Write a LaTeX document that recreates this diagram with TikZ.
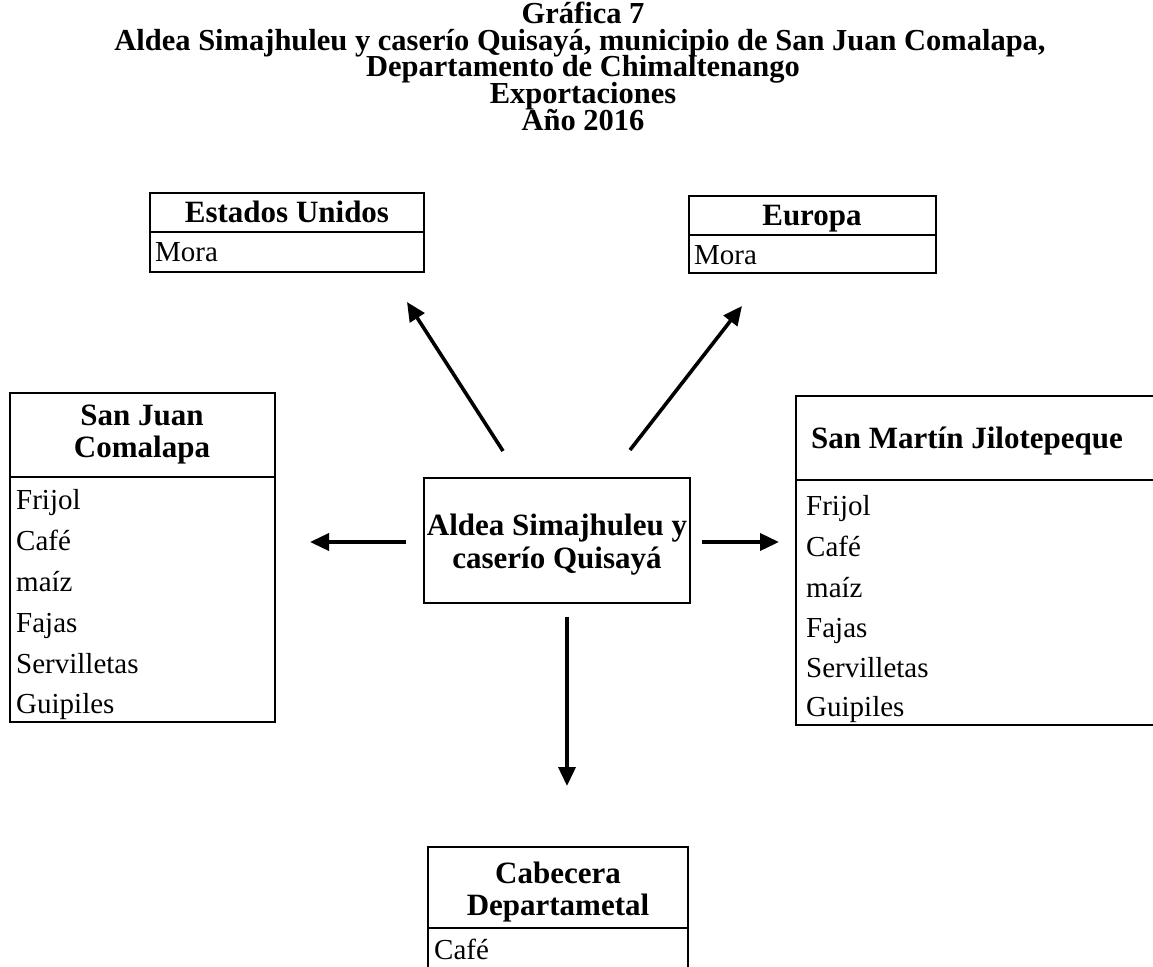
\documentclass[tikz,border=0pt]{standalone}
\usepackage{fontspec}
\setmainfont{Liberation Serif}
\usetikzlibrary{arrows.meta}
\newcommand\ttlfont{\fontsize{30.5}{30.5}\selectfont\bfseries}
\newcommand\hdrfont{\fontsize{31}{31}\selectfont\bfseries}
\newcommand\itmfont{\fontsize{29}{29}\selectfont}
\begin{document}
\begin{tikzpicture}[x=1pt,y=-1pt,
  boxline/.style={line width=1.4pt},
  ttl/.style={font=\ttlfont, anchor=base, inner sep=0pt},
  hdr/.style={font=\hdrfont, anchor=base, inner sep=0pt},
  itm/.style={font=\itmfont, anchor=base west, inner sep=0pt},
  arr/.style={line width=3.6pt, -{Triangle[length=19pt,width=17pt]}}]
\useasboundingbox[fill=white] (0,0) rectangle (1153,966);

% Title
\node[ttl] (t1) at (583,24) {Gráfica 7};
\node[ttl] (t2) at (580,51) {Aldea Simajhuleu y caserío Quisayá, municipio de San Juan Comalapa,};
\node[ttl] (t3) at (583,77) {Departamento de Chimaltenango};
\node[ttl] (t4) at (583,103) {Exportaciones};
\node[ttl] (t5) at (583,130) {Año 2016};

% Estados Unidos
\draw[boxline] (150,193) rectangle (424,272);
\draw[boxline] (150,232) -- (424,232);
\node[hdr] (euh) at (287,222) {Estados Unidos};
\node[itm] (eu1) at (155,261) {Mora};

% Europa
\draw[boxline] (689,196) rectangle (936,273);
\draw[boxline] (689,235) -- (936,235);
\node[hdr] (euph) at (812,225) {Europa};
\node[itm] (eup1) at (694,264) {Mora};

% San Juan Comalapa
\draw[boxline] (10,393) rectangle (275,722);
\draw[boxline] (10,477) -- (275,477);
\node[hdr] (sjh1) at (142,425) {San Juan};
\node[hdr] (sjh2) at (142,457) {Comalapa};
\node[itm] (sj1) at (16,509) {Frijol};
\node[itm] (sj2) at (16,550) {Café};
\node[itm] (sj3) at (16,591) {maíz};
\node[itm] (sj4) at (16,632) {Fajas};
\node[itm] (sj5) at (16,673) {Servilletas};
\node[itm] (sj6) at (16,713) {Guipiles};

% San Martin Jilotepeque
\draw[boxline] (1170,396) -- (796,396) -- (796,725) -- (1170,725);
\draw[boxline] (796,480) -- (1170,480);
\node[hdr] (smh) at (967,448) {San Martín Jilotepeque};
\node[itm] (sm1) at (806,515) {Frijol};
\node[itm] (sm2) at (806,556) {Café};
\node[itm] (sm3) at (806,597) {maíz};
\node[itm] (sm4) at (806,637) {Fajas};
\node[itm] (sm5) at (806,677) {Servilletas};
\node[itm] (sm6) at (806,716) {Guipiles};

% Centre
\draw[boxline] (424,478) rectangle (690,603);
\node[hdr] (c1) at (557,535) {Aldea Simajhuleu y};
\node[hdr] (c2) at (557,568) {caserío Quisayá};

% Cabecera
\draw[boxline] (428,847) rectangle (688,990);
\draw[boxline] (428,928) -- (688,928);
\node[hdr] (cbh1) at (558,883) {Cabecera};
\node[hdr] (cbh2) at (558,915) {Departametal};
\node[itm] (cb1) at (434,959) {Café};

% Arrow ends
\coordinate (aL0) at (406,542); \coordinate (aL1) at (310,542);
\coordinate (aR0) at (702,542); \coordinate (aR1) at (779,542);
\coordinate (aUL0) at (503,451); \coordinate (aUL1) at (407,302);
\coordinate (aUR0) at (630,450); \coordinate (aUR1) at (742,306);
\coordinate (aD0) at (567,617); \coordinate (aD1) at (567,786);
\draw[arr] (aL0) -- (aL1);
\draw[arr] (aR0) -- (aR1);
\draw[arr] (aUL0) -- (aUL1);
\draw[arr] (aUR0) -- (aUR1);
\draw[arr] (aD0) -- (aD1);
\end{tikzpicture}
\end{document}
